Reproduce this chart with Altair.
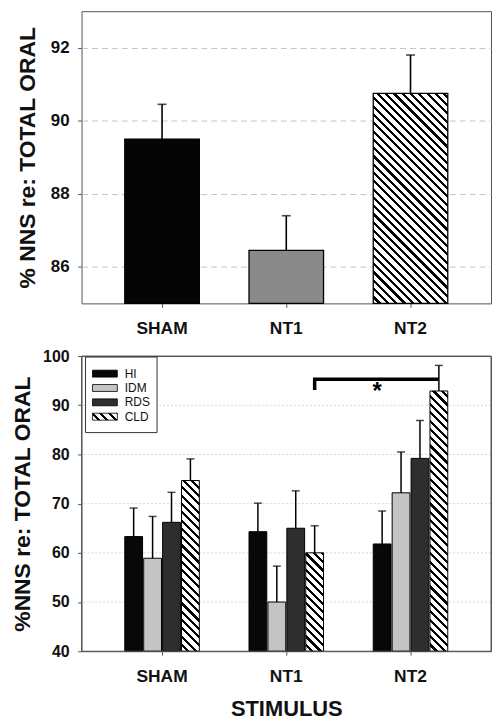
import math
import altair as alt

# ---------------- data ----------------
stimuli = ["SHAM", "NT1", "NT2"]
top_means = [89.5, 86.45, 90.75]
top_se = [0.95, 0.95, 1.05]

groups = ["HI", "IDM", "RDS", "CLD"]
sham_means = [63.3, 58.9, 66.2, 74.7]
sham_se = [5.8, 8.5, 6.1, 4.4]
nt1_means = [64.3, 50.0, 65.0, 60.0]
nt1_se = [5.8, 7.3, 7.6, 5.5]
nt2_means = [61.8, 72.2, 79.2, 92.9]
nt2_se = [6.7, 8.3, 7.7, 5.2]

sig_stimuli = ["NT1", "NT1", "NT2"]
sig_group = "CLD"
sig_levels = [93.1, 95.3, 95.3]
sig_label = "*"

top_ticks = [86, 88, 90, 92]
bot_ticks = [40, 50, 60, 70, 80, 90, 100]
bot_grid = [50, 60, 70, 80, 90]

# ---------------- style ----------------
FONT = "Liberation Sans"
PANEL_W = 412
TOP_H = 294
BOT_H = 297
TOP_DOMAIN = [85, 93]
BOT_DOMAIN = [40, 100]
PAD_IN, PAD_OUT = 0.4, 0.348
SUB_PAD = 0.06
step = PANEL_W / (len(stimuli) - PAD_IN + 2 * PAD_OUT)
GROUP_W = step * (1 - PAD_IN)
SUB_W = GROUP_W / (len(groups) - SUB_PAD) * (1 - SUB_PAD)


def hatch(w, h, period=5.9, frac=0.38):
    n = (w + h) / (math.sqrt(2) * period)
    stops = []
    k = 0
    while k < n:
        a = k / n
        b = min((k + 1 - frac) / n, 1.0)
        c = min((k + 1) / n, 1.0)
        stops += [
            {"offset": round(a, 5), "color": "#ffffff"},
            {"offset": round(b, 5), "color": "#ffffff"},
            {"offset": round(b, 5), "color": "#000000"},
            {"offset": round(c, 5), "color": "#000000"},
        ]
        k += 1
    kk = (w + h) / (w * w + h * h)
    return {"gradient": "linear", "x1": 0, "y1": 1,
            "x2": kk * w, "y2": 1 - kk * h, "stops": stops}


top_fills = ["#050505", "#8a8a8a", "hatch"]
grp_fills = ["#080808", "#c4c4c4", "#2e2e2e", "hatch"]

# ---------------- tables ----------------
top_rows = []
for s, m, e, f in zip(stimuli, top_means, top_se, top_fills):
    h = (m - TOP_DOMAIN[0]) * TOP_H / (TOP_DOMAIN[1] - TOP_DOMAIN[0])
    top_rows.append({"stim": s, "mean": m, "upper": round(m + e, 3),
                     "fill": hatch(GROUP_W, h) if f == "hatch" else f})

bot_rows = []
for s, means, ses in zip(stimuli, [sham_means, nt1_means, nt2_means],
                         [sham_se, nt1_se, nt2_se]):
    for g, m, e, f in zip(groups, means, ses, grp_fills):
        h = (m - BOT_DOMAIN[0]) * BOT_H / (BOT_DOMAIN[1] - BOT_DOMAIN[0])
        bot_rows.append({"stim": s, "group": g, "mean": m,
                         "upper": round(m + e, 3),
                         "fill": hatch(SUB_W, h) if f == "hatch" else f})

leg_rows = [{"group": g, "fill": hatch(25, 7) if f == "hatch" else f}
            for g, f in zip(groups, grp_fills)]
sig_rows = [{"stim": s, "group": sig_group, "v": v, "o": i}
            for i, (s, v) in enumerate(zip(sig_stimuli, sig_levels))]
star_rows = [{"stim": sig_stimuli[-1], "v": sig_levels[-1], "label": sig_label}]
grid_rows = [{"v": v} for v in bot_grid]


# ---------------- encodings ----------------
def make_x(title=None, title_pad=0, band_pos=None):
    kw = {}
    if band_pos is not None:
        kw["bandPosition"] = band_pos
    return alt.X(
        "stim:N", sort=stimuli,
        scale=alt.Scale(domain=stimuli, paddingInner=PAD_IN, paddingOuter=PAD_OUT),
        axis=alt.Axis(
            title=title, titleFontSize=22, titleFontWeight="bold", titleFont=FONT,
            titleColor="#111", titlePadding=title_pad,
            labelFont=FONT, labelFontSize=17.5, labelFontWeight="bold", labelColor="#111",
            labelAngle=0, labelPadding=12, tickSize=4, tickColor="#555",
            domain=False, grid=False),
        **kw)


def make_y(field, domain, values, title, label_size, grid, title_pad):
    return alt.Y(
        field, stack=None,
        scale=alt.Scale(domain=domain, zero=False, nice=False),
        axis=alt.Axis(
            values=values, title=title, titleFont=FONT, titleFontSize=23,
            titleFontWeight="bold", titleColor="#111", titlePadding=title_pad,
            labelFont=FONT, labelFontSize=label_size, labelFontWeight="bold",
            labelColor="#111", labelPadding=8.5, tickSize=4, tickColor="#555",
            domain=False, grid=grid, gridDash=[6, 4], gridColor="#c4c4c4",
            gridWidth=1))


def top_y(field):
    return make_y(field, TOP_DOMAIN, top_ticks, "% NNS re: TOTAL ORAL", 17, True, 11)


def bot_y(field):
    return make_y(field, BOT_DOMAIN, bot_ticks, "%NNS re: TOTAL ORAL", 16, False, 8)


fill_enc = alt.Fill("fill:N", scale=None, legend=None)

# ---------------- top panel ----------------
top_data = alt.Data(values=top_rows)
tx = make_x()
top_bars = alt.Chart(top_data).mark_bar(stroke="#000", strokeWidth=1.3).encode(
    x=tx, y=top_y("mean:Q"), y2=alt.datum(TOP_DOMAIN[0]), fill=fill_enc)
top_err = alt.Chart(top_data).mark_rule(color="#000", strokeWidth=1.6).encode(
    x=tx, y=top_y("mean:Q"), y2="upper:Q")
top_cap = alt.Chart(top_data).mark_tick(
    orient="horizontal", size=9, thickness=1.6, color="#000").encode(
    x=tx, y=top_y("upper:Q"))
top = alt.layer(top_bars, top_err, top_cap).properties(width=PANEL_W, height=TOP_H)

# ---------------- bottom panel ----------------
bot_data = alt.Data(values=bot_rows)
bx = make_x("STIMULUS", 14)
xo = alt.XOffset("group:N", sort=groups,
                 scale=alt.Scale(domain=groups, paddingInner=SUB_PAD, paddingOuter=0))
bot_grid_rules = alt.Chart(alt.Data(values=grid_rows)).mark_rule(
    color="#d6d6d6", strokeWidth=1, strokeDash=[2, 2]).encode(y=bot_y("v:Q"))
bot_bars = alt.Chart(bot_data).mark_bar(stroke="#000", strokeWidth=1).encode(
    x=bx, xOffset=xo, y=bot_y("mean:Q"), y2=alt.datum(BOT_DOMAIN[0]), fill=fill_enc)
bot_err = alt.Chart(bot_data).mark_rule(color="#000", strokeWidth=1.5).encode(
    x=bx, xOffset=xo, y=bot_y("mean:Q"), y2="upper:Q")
bot_cap = alt.Chart(bot_data).mark_tick(
    orient="horizontal", size=8, thickness=1.5, color="#000").encode(
    x=bx, xOffset=xo, y=bot_y("upper:Q"))
bracket = alt.Chart(alt.Data(values=sig_rows)).mark_line(
    color="#000", strokeWidth=3.5, strokeJoin="miter", strokeCap="butt").encode(
    x=bx, xOffset=xo, y=bot_y("v:Q"), order="o:Q")
star = alt.Chart(alt.Data(values=star_rows)).mark_text(
    font=FONT, fontSize=24, fontWeight="bold", baseline="top", dx=4, dy=1,
    color="#000").encode(
    x=make_x("STIMULUS", 14, band_pos=0), y=bot_y("v:Q"), text="label:N")

leg_data = alt.Data(values=leg_rows)
leg_y = alt.Y("group:N", sort=groups,
              scale=alt.Scale(domain=groups, range=[14.2, 64.5],
                              paddingInner=0.517, paddingOuter=0),
              axis=None)
frame = alt.Chart(alt.Data(values=[{"k": 1}])).mark_rect(
    fillOpacity=0, stroke="#555", strokeWidth=1).encode(
    x=alt.value(0), x2=alt.value(PANEL_W), y=alt.value(0), y2=alt.value(BOT_H))
leg_box = alt.Chart(alt.Data(values=[{"k": 1}])).mark_rect(
    fill="white", stroke="#333", strokeWidth=1).encode(
    x=alt.value(4), x2=alt.value(76), y=alt.value(1), y2=alt.value(77))
leg_sw = alt.Chart(leg_data).mark_rect(stroke="#000", strokeWidth=0.8).encode(
    x=alt.value(11), x2=alt.value(36), y=leg_y, fill=fill_enc)
leg_txt = alt.Chart(leg_data).mark_text(
    font=FONT, fontSize=12, align="left", baseline="middle", color="#111").encode(
    x=alt.value(43.5), y=leg_y, text="group:N")

bottom = alt.layer(
    alt.layer(bot_grid_rules, bot_bars, bot_err, bot_cap, bracket, star),
    alt.layer(frame, leg_box, leg_sw, leg_txt),
).resolve_scale(y="independent").properties(width=PANEL_W, height=BOT_H)

chart = alt.vconcat(top, bottom, spacing=53, bounds="flush").properties(
    padding={"left": 3, "top": 0, "right": 0, "bottom": 0}, background="white"
).configure_view(stroke="#555", strokeWidth=1)

chart.save("out.html", embed_options={"renderer": "svg", "actions": False})
